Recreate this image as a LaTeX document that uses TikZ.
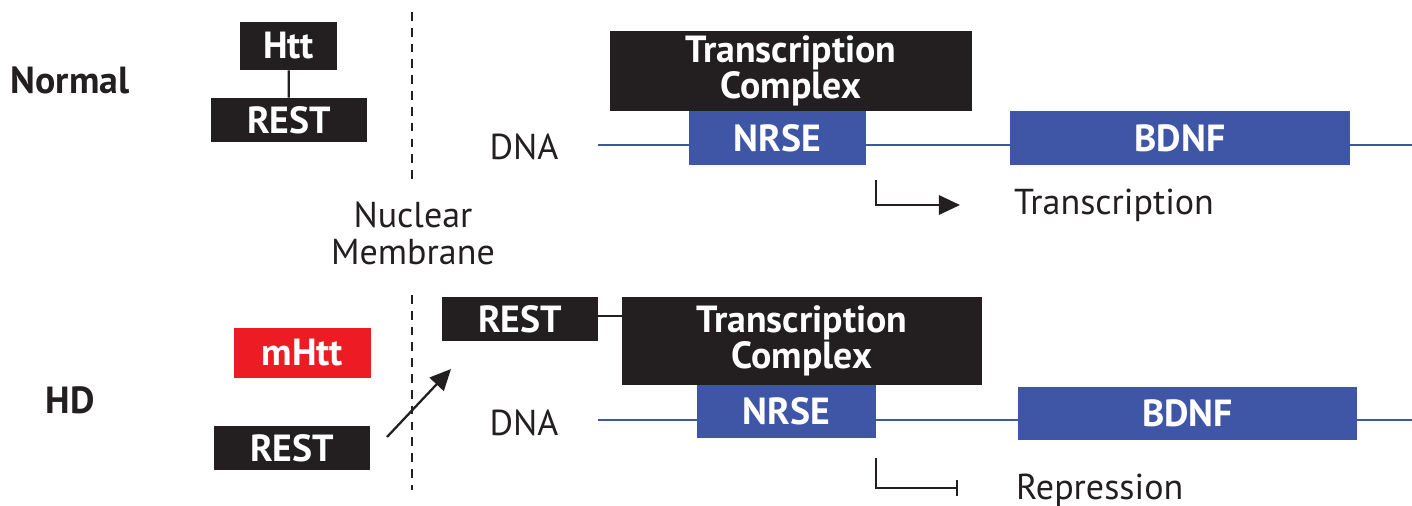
\documentclass[tikz,border=0pt]{standalone}
\usepackage{fontspec}
\setmainfont{PT Sans}
\usepackage{tikz}
\usetikzlibrary{arrows.meta}

\definecolor{boxblack}{HTML}{231F20}
\definecolor{dnablue}{HTML}{3F56A6}
\definecolor{mutred}{HTML}{ED1C24}

\tikzset{
  blackbox/.style={fill=boxblack, text=white, inner sep=0pt, align=center,
    font=\fontsize{21.5}{20.5}\selectfont\bfseries},
  bluebox/.style={blackbox, fill=dnablue},
  redbox/.style={blackbox, fill=mutred},
  plain/.style={text=boxblack, align=center, font=\fontsize{20.5}{21}\selectfont},
  rowlabel/.style={text=boxblack, font=\fontsize{21.5}{22}\selectfont\bfseries},
  link/.style={boxblack, line width=1.3pt},
  dnaline/.style={dnablue, line width=1.1pt},
  membrane/.style={boxblack, line width=1.2pt, dash pattern=on 5pt off 4pt}
}

\begin{document}
\begin{tikzpicture}[x=0.02cm, y=-0.02cm]
\useasboundingbox (0,0) rectangle (1412,505);

% normal cell
\coordinate (dnaL1) at (598,145);
\coordinate (dnaR1) at (1412,145);
\draw[dnaline] (dnaL1) -- (dnaR1);
\node[rowlabel] (normal) at (70,80) {Normal};
\node[blackbox, minimum width=1.94cm, minimum height=0.96cm] (htt) at (288.5,46) {Htt};
\node[blackbox, minimum width=3.12cm, minimum height=0.88cm] (rest1) at (289,120) {REST};
\draw[link] (htt) -- (rest1);
\node[blackbox, minimum width=7.24cm, minimum height=1.6cm] (tc1) at (791,71) {Transcription\\Complex};
\node[plain] (dna1) at (524,147) {DNA};
\node[bluebox, minimum width=3.54cm, minimum height=1.08cm] (nrse1) at (777.5,138) {NRSE};
\node[bluebox, minimum width=6.8cm, minimum height=1.08cm] (bdnf1) at (1180,138) {BDNF};
\coordinate (tsa) at (876,180);
\coordinate (tsb) at (876,205);
\coordinate (tsc) at (960,205);
\draw[link, -{Triangle[length=12pt,width=11pt]}] (tsa) -- (tsb) -- (tsc);
\node[plain, anchor=west] (trans) at (1008,205) {Transcription};

% membrane
\coordinate (memA) at (412,12);
\coordinate (memB) at (412,180);
\coordinate (memC) at (412,295);
\coordinate (memD) at (412,490);
\draw[membrane] (memA) -- (memB);
\draw[membrane] (memC) -- (memD);
\node[plain] (nuc) at (413,233) {Nuclear\\Membrane};

% HD cell
\coordinate (dnaL2) at (598,420);
\coordinate (dnaR2) at (1412,420);
\draw[dnaline] (dnaL2) -- (dnaR2);
\node[rowlabel] (hd) at (70,400) {HD};
\node[redbox, minimum width=2.74cm, minimum height=1.0cm] (mhtt) at (302.5,353) {mHtt};
\node[blackbox, minimum width=3.12cm, minimum height=0.88cm] (rest3) at (292,448) {REST};
\node[blackbox, minimum width=3.12cm, minimum height=0.88cm] (rest2) at (520,319) {REST};
\node[blackbox, minimum width=7.2cm, minimum height=1.76cm] (tc2) at (802,341) {Transcription\\Complex};
\draw[link] (rest2.east |- 0,316) -- (tc2.west |- 0,316);
\coordinate (mvA) at (387,437);
\coordinate (mvB) at (451,369);
\draw[link, -{Triangle[length=12pt,width=11pt]}] (mvA) -- (mvB);
\node[plain] (dna2) at (524,423) {DNA};
\node[bluebox, minimum width=3.58cm, minimum height=1.06cm] (nrse2) at (786.5,411.5) {NRSE};
\node[bluebox, minimum width=6.78cm, minimum height=1.06cm] (bdnf2) at (1187.5,413.5) {BDNF};
\coordinate (rpa) at (876,458);
\coordinate (rpb) at (876,488);
\coordinate (rpc) at (958,488);
\draw[link, -{Bar[width=9pt]}] (rpa) -- (rpb) -- (rpc);
\node[plain, anchor=west] (repr) at (1010,490) {Repression};
\end{tikzpicture}
\end{document}
